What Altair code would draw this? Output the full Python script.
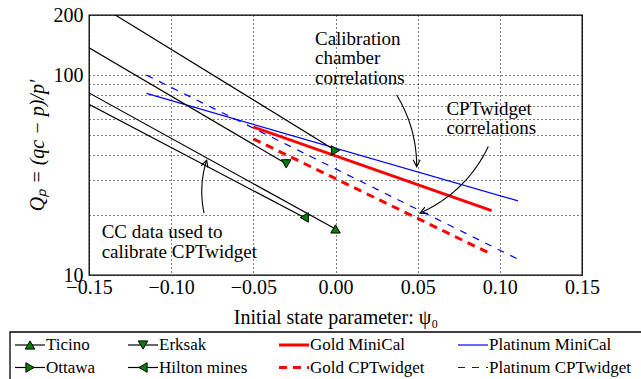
import math

import altair as alt
import pandas as pd

# Normalised cone resistance against initial state parameter.
# Each correlation is a straight line in log space between two (psi, Qp) points.
SERIES = [
    "Ticino", "Ottawa", "Erksak", "Hilton mines",
    "Gold MiniCal", "Gold CPTwidget", "Platinum MiniCal", "Platinum CPTwidget",
]
PSI_START = [-0.15, -0.134, -0.15, -0.15, -0.05, -0.05, -0.115, -0.115]
Q_START = [81.5, 200.0, 137.0, 71.5, 55.0, 48.0, 81.0, 100.0]
PSI_END = [0.0, 0.0, -0.030, -0.019, 0.095, 0.095, 0.111, 0.111]
Q_END = [17.0, 42.0, 36.0, 19.4, 21.0, 12.7, 23.5, 12.0]

# calibration chamber sands that carry an end marker
MARKED = ["Ticino", "Ottawa", "Erksak", "Hilton mines"]

X_TICKS = [-0.15, -0.10, -0.05, 0.0, 0.05, 0.10, 0.15]
Y_TICKS = [10, 20, 30, 40, 50, 60, 70, 80, 90, 100, 200]
Y_LABELLED = [10, 100, 200]

# annotation texts, anchored at (psi, Qp) of the first baseline
NOTE_TEXT = ["Calibration\nchamber\ncorrelations", "CPTwidget\ncorrelations",
             "CC data used to\ncalibrate CPTwidget"]
NOTE_PSI = [-0.0125, 0.0675, -0.1423]
NOTE_Q = [141.6, 63.2, 15.3]

# curved arrows: from (psi, Qp) to (psi, Qp)
ARROW_FROM = [(0.0372, 79.6), (0.093, 43.9), (-0.080, 20.4)]
ARROW_TO = [(0.0494, 34.8), (0.0514, 20.4), (-0.0784, 37.6)]
ARROW_BEND = [0.14, 0.18, 0.13]

# ---- layout and styling -------------------------------------------------
FONT = "Liberation Serif"
XMIN, XMAX = -0.15, 0.15
YMIN, YMAX = 10, 200
W, H = 493, 260
LEFT, TOP, RIGHT, BOTTOM = 89, 15, 59, 104

GREEN = "#008000"
STYLE = {
    "Ticino": ("black", 1.2, None),
    "Ottawa": ("black", 1.2, None),
    "Erksak": ("black", 1.2, None),
    "Hilton mines": ("black", 1.2, None),
    "Gold MiniCal": ("#ff0000", 3.0, None),
    "Gold CPTwidget": ("#ff0000", 3.0, [8, 6]),
    "Platinum MiniCal": ("#0000ff", 1.2, None),
    "Platinum CPTwidget": ("#0000ff", 1.2, [7, 7]),
}
SHAPES = {"Ticino": "triangle-up", "Ottawa": "triangle-right",
          "Erksak": "triangle-down", "Hilton mines": "triangle-left"}

# legend geometry in page pixels
LEG_COL_X = [15, 128, 279, 458]
LEG_ROW_Y = [345, 367.5]
LEG_HANDLE = 30
LEG_BOX = (10, 332, 650, 395)

x_enc = alt.X(
    "psi:Q",
    scale=alt.Scale(domain=[XMIN, XMAX], nice=False, zero=False),
    axis=alt.Axis(
        values=X_TICKS,
        labelExpr="replace(format(datum.value, '.2f'), '-', '\u2212')",
        title="Initial state parameter: \u03c8\u2080",
        grid=True, gridDash=[1, 3], gridColor="black", gridWidth=1, gridOpacity=1,
        ticks=False, domain=False, labelFlush=False, labelOverlap=False,
        labelFont=FONT, labelFontSize=20, labelColor="black", labelPadding=2,
        titleFont=FONT, titleFontSize=20, titleFontWeight="normal",
        titleColor="black", titlePadding=10,
    ),
)
label_test = " || ".join(f"datum.value == {v}" for v in Y_LABELLED)
y_enc = alt.Y(
    "q:Q",
    scale=alt.Scale(type="log", domain=[YMIN, YMAX], nice=False),
    axis=alt.Axis(
        values=Y_TICKS,
        labelExpr=f"({label_test}) ? format(datum.value, 'd') : ''",
        title="Q\u209a = (qc \u2212 p)/p\u2032",
        grid=True, gridDash=[1, 3], gridColor="black", gridWidth=1, gridOpacity=1,
        ticks=False, domain=False, labelOverlap=False,
        labelFont=FONT, labelFontSize=20, labelColor="black", labelPadding=6,
        titleFont=FONT, titleFontSize=20, titleFontWeight="normal",
        titleFontStyle="italic", titleColor="black", titlePadding=6,
    ),
)

layers = []

# correlation lines: coloured ones first, black chamber lines on top
order = [s for s in SERIES if s not in MARKED] + MARKED
for name in order:
    i = SERIES.index(name)
    df = pd.DataFrame({"psi": [PSI_START[i], PSI_END[i]], "q": [Q_START[i], Q_END[i]]})
    color, width, dash = STYLE[name]
    kw = dict(color=color, strokeWidth=width, clip=True)
    if dash:
        kw["strokeDash"] = dash
    layers.append(alt.Chart(df).mark_line(**kw).encode(x=x_enc, y=y_enc))

shape_scale = alt.Scale(domain=MARKED, range=[SHAPES[s] for s in MARKED])
markers = pd.DataFrame({
    "series": MARKED,
    "psi": [PSI_END[SERIES.index(s)] for s in MARKED],
    "q": [Q_END[SERIES.index(s)] for s in MARKED],
})
layers.append(
    alt.Chart(markers)
    .mark_point(filled=True, fill=GREEN, stroke="black", strokeWidth=1, size=90, opacity=1)
    .encode(x=x_enc, y=y_enc, shape=alt.Shape("series:N", scale=shape_scale, legend=None))
)

# annotation texts
notes = pd.DataFrame({"text": NOTE_TEXT, "psi": NOTE_PSI, "q": NOTE_Q})
layers.append(
    alt.Chart(notes)
    .mark_text(align="left", baseline="alphabetic", lineBreak="\n", lineHeight=19.5,
               font=FONT, fontSize=19, color="black")
    .encode(x=x_enc, y=y_enc, text="text:N")
)


# curved annotation arrows (quadratic curve drawn in screen space)
def to_px(psi, q):
    lo, hi = math.log10(YMIN), math.log10(YMAX)
    return (psi - XMIN) / (XMAX - XMIN) * W, (hi - math.log10(q)) / (hi - lo) * H


def from_px(x, y):
    lo, hi = math.log10(YMIN), math.log10(YMAX)
    return XMIN + x / W * (XMAX - XMIN), 10 ** (hi - y / H * (hi - lo))


arrow_rows, head_rows = [], []
for k, (a, b, bend) in enumerate(zip(ARROW_FROM, ARROW_TO, ARROW_BEND)):
    x1, y1 = to_px(*a)
    x2, y2 = to_px(*b)
    dx, dy = x2 - x1, y2 - y1
    cx, cy = (x1 + x2) / 2 + bend * dy, (y1 + y2) / 2 - bend * dx
    steps = 24
    for j in range(steps + 1):
        t = j / steps
        px = (1 - t) ** 2 * x1 + 2 * (1 - t) * t * cx + t ** 2 * x2
        py = (1 - t) ** 2 * y1 + 2 * (1 - t) * t * cy + t ** 2 * y2
        psi, q = from_px(px, py)
        arrow_rows.append({"arrow": k, "i": j, "psi": psi, "q": q})
    ux, uy = x2 - cx, y2 - cy
    ang = math.degrees(math.atan2(ux, -uy)) % 360
    head_rows.append({"psi": b[0], "q": b[1], "ang": ang})

layers.append(
    alt.Chart(pd.DataFrame(arrow_rows))
    .mark_line(color="black", strokeWidth=1.1)
    .encode(x=x_enc, y=y_enc, detail="arrow:N", order="i:Q")
)
layers.append(
    alt.Chart(pd.DataFrame(head_rows))
    .mark_point(shape="M -0.5 1 L 0 0 L 0.5 1", filled=False, color="black",
                strokeWidth=1.1, size=196, opacity=1)
    .encode(x=x_enc, y=y_enc, angle=alt.Angle("ang:Q", scale=None))
)

# ---- legend below the axes, placed in pixels relative to the plot origin
box = pd.DataFrame({"x0": [LEG_BOX[0] - LEFT], "x1": [LEG_BOX[2] - LEFT],
                    "y0": [LEG_BOX[1] - TOP], "y1": [LEG_BOX[3] - TOP]})
layers.append(
    alt.Chart(box)
    .mark_rect(fill="white", stroke="black", strokeWidth=1.3)
    .encode(x=alt.X("x0:Q", scale=None, axis=None), x2="x1:Q",
            y=alt.Y("y0:Q", scale=None, axis=None), y2="y1:Q")
)

leg_rows = []
for i, name in enumerate(SERIES):
    col, row = i // 2, i % 2
    x0 = LEG_COL_X[col] - LEFT
    leg_rows.append({"series": name, "x0": x0, "x1": x0 + LEG_HANDLE,
                     "xm": x0 + LEG_HANDLE / 2, "xt": x0 + LEG_HANDLE + 1,
                     "y": LEG_ROW_Y[row] - TOP})
leg = pd.DataFrame(leg_rows)

for name in SERIES:
    color, width, dash = STYLE[name]
    kw = dict(color=color, strokeWidth=width)
    if dash:
        kw["strokeDash"] = dash
    layers.append(
        alt.Chart(leg[leg.series == name])
        .mark_rule(**kw)
        .encode(x=alt.X("x0:Q", scale=None, axis=None), x2="x1:Q",
                y=alt.Y("y:Q", scale=None, axis=None))
    )

layers.append(
    alt.Chart(leg[leg.series.isin(MARKED)])
    .mark_point(filled=True, fill=GREEN, stroke="black", strokeWidth=1, size=90, opacity=1)
    .encode(x=alt.X("xm:Q", scale=None, axis=None), y=alt.Y("y:Q", scale=None, axis=None),
            shape=alt.Shape("series:N", scale=shape_scale, legend=None))
)
layers.append(
    alt.Chart(leg)
    .mark_text(align="left", baseline="middle", font=FONT, fontSize=17, color="black")
    .encode(x=alt.X("xt:Q", scale=None, axis=None), y=alt.Y("y:Q", scale=None, axis=None),
            text="series:N")
)

chart = (
    alt.layer(*layers)
    .properties(
        width=W, height=H,
        autosize=alt.AutoSizeParams(type="none"),
        padding={"left": LEFT, "top": TOP, "right": RIGHT, "bottom": BOTTOM},
        background="white",
    )
    .configure_view(stroke="black", strokeWidth=1.3)
)

chart.save("out.html", embed_options={"renderer": "svg", "actions": False})
